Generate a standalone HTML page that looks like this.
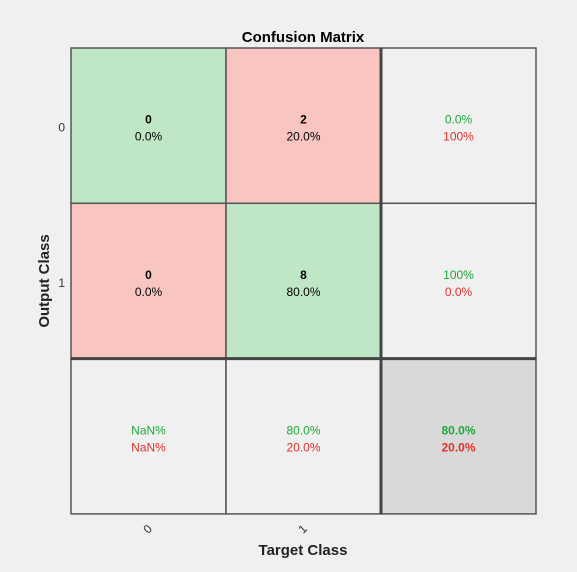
<!DOCTYPE html>
<html><head><meta charset="utf-8"><style>
html,body{margin:0;padding:0;background:#f0f0f0;}
svg{display:block;font-family:"Liberation Sans",Arial,sans-serif;}
</style></head><body>
<svg id="chart" width="577" height="572">
<rect width="577" height="572" fill="#f0f0f0"/>
<text x="303" y="42" text-anchor="middle" font-size="15" font-weight="bold" fill="#000">Confusion Matrix</text>
<text x="303" y="555" text-anchor="middle" font-size="15" font-weight="bold" fill="#222">Target Class</text>
<text transform="translate(49,281) rotate(-90)" text-anchor="middle" font-size="15" font-weight="bold" fill="#222">Output Class</text>
<g id="cells"></g>
</svg>
<script>
const classes = ["0","1"];
const counts = [[0,2],[0,8]];
const total = 10;
const X0=71, Y0=48, CW=155, CH=155.3;
const svg=document.getElementById('cells');
const NS='http://www.w3.org/2000/svg';
function mk(tag,attrs){const e=document.createElementNS(NS,tag);for(const k in attrs)e.setAttribute(k,attrs[k]);svg.appendChild(e);return e;}
function txt(x,y,s,color,bold,name){const t=mk('text',{x:x,y:y,'text-anchor':'middle','font-size':12,fill:color});if(bold)t.setAttribute('font-weight','bold');t.textContent=s;


return t;}
function pct(v){return isNaN(v)?'NaN%':(v===100?'100%':v.toFixed(1)+'%');}
const n=classes.length;
const G='#1fa83a', R='#e0302a';
for(let r=0;r<=n;r++)for(let c=0;c<=n;c++){
  const x=X0+c*CW,y=Y0+r*CH;
  let fill='#f0f0f0';
  if(r<n&&c<n)fill=(r===c)?'#bfe6c5':'#f9c5c1';
  if(r===n&&c===n)fill='#d9d9d9';
  const rc=mk('rect',{x:x,y:y,width:CW,height:CH,fill:fill,stroke:'#555','stroke-width':1.5});
  
  
  const cx=x+CW/2, cy=y+CH/2;
  if(r<n&&c<n){
    const v=counts[r][c];
    txt(cx,cy-2,String(v),'#000',true,'cell-count-'+r+'-'+c);
    txt(cx,cy+15,pct(v/total*100),'#000',false,'cell-percent-'+r+'-'+c);
  } else {
    let ok,sum;
    if(r<n&&c===n){sum=counts[r].reduce((a,b)=>a+b,0);ok=counts[r][r];}
    else if(r===n&&c<n){sum=counts.reduce((a,row)=>a+row[c],0);ok=counts[c][c];}
    else {sum=total;ok=counts.reduce((a,row,i)=>a+row[i],0);}
    const p=ok/sum*100, q=(sum-ok)/sum*100;
    const b=(r===n&&c===n);
    txt(cx,cy-2,pct(p),G,b,'summary-correct-'+r+'-'+c);
    txt(cx,cy+15,pct(q),R,b,'summary-error-'+r+'-'+c);
  }
}
const l1=mk('line',{x1:X0+n*CW,y1:Y0,x2:X0+n*CW,y2:Y0+(n+1)*CH,stroke:'#444','stroke-width':3});


const l2=mk('line',{x1:X0,y1:Y0+n*CH,x2:X0+(n+1)*CW,y2:Y0+n*CH,stroke:'#444','stroke-width':3});


classes.forEach((cl,i)=>{
  const t=mk('text',{x:X0-6,y:Y0+i*CH+CH/2+6,'text-anchor':'end','font-size':12,fill:'#333'});
  t.textContent=cl;
  
  
  const xx=X0+i*CW+CW/2+2, yy=Y0+(n+1)*CH+18;
  const t2=mk('text',{x:xx,y:yy,'text-anchor':'middle','font-size':12,fill:'#333',transform:'rotate(-45 '+xx+' '+yy+')'});
  t2.textContent=cl;
  
  
});
</script>
</body></html>
